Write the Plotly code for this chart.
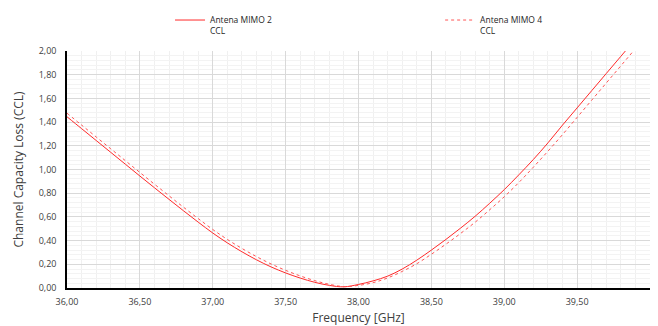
import plotly.graph_objects as go

freq = [36.0, 36.1, 36.2, 36.3, 36.4, 36.5, 36.6, 36.7, 36.8, 36.9,
        37.0, 37.1, 37.2, 37.3, 37.4, 37.5, 37.6, 37.7, 37.8, 37.9,
        38.0, 38.1, 38.2, 38.3, 38.4, 38.5, 38.6, 38.7, 38.8, 38.9,
        39.0, 39.1, 39.2, 39.3, 39.4, 39.5, 39.6, 39.7, 39.8, 39.9, 40.0]

ccl_mimo2 = [1.445, 1.345, 1.245, 1.145, 1.045, 0.945, 0.846, 0.748, 0.651, 0.556,
             0.464, 0.381, 0.306, 0.238, 0.178, 0.127, 0.084, 0.048, 0.022, 0.010,
             0.030, 0.060, 0.100, 0.160, 0.235, 0.320, 0.410, 0.505, 0.605, 0.715,
             0.830, 0.955, 1.085, 1.225, 1.375, 1.520, 1.665, 1.810, 1.955, 2.100, 2.245]

ccl_mimo4 = [1.475, 1.375, 1.275, 1.175, 1.075, 0.975, 0.876, 0.778, 0.681, 0.586,
             0.494, 0.410, 0.334, 0.265, 0.203, 0.149, 0.102, 0.062, 0.031, 0.012,
             0.022, 0.045, 0.085, 0.140, 0.205, 0.285, 0.370, 0.460, 0.555, 0.660,
             0.770, 0.890, 1.020, 1.155, 1.295, 1.440, 1.585, 1.730, 1.875, 2.020, 2.165]

series_names = ["Antena MIMO 2<br>CCL", "Antena MIMO 4<br>CCL"]

FONT = "Open Sans"

fig = go.Figure()
fig.add_trace(go.Scatter(x=freq, y=ccl_mimo2, mode="lines", name=series_names[0],
                         legend="legend",
                         line=dict(color="#ff2a2a", width=1, shape="spline")))
fig.add_trace(go.Scatter(x=freq, y=ccl_mimo4, mode="lines", name=series_names[1],
                         legend="legend2",
                         line=dict(color="#ff5555", width=1, dash="dot", shape="spline")))

leg_common = dict(orientation="h", xanchor="left", y=1.0, yanchor="top",
                  yref="container", itemwidth=30, valign="top",
                  font=dict(family=FONT, size=8.5, color="#262626"),
                  bgcolor="rgba(0,0,0,0)")

# page body has an 8px margin, so the figure is sized 650x318
fig.update_layout(
    width=650, height=318,
    margin=dict(l=59, r=8, t=43, b=38, autoexpand=False),
    paper_bgcolor="white", plot_bgcolor="white",
    separators=",.",
    font=dict(family=FONT, size=9, color="#404040"),
    showlegend=True,
    legend=dict(x=0.1767, **leg_common),
    legend2=dict(x=0.640, **leg_common),
    xaxis=dict(range=[36, 40], tick0=36, dtick=0.5, tickformat=".2f",
               showgrid=True, gridcolor="#d9d9d9", gridwidth=1,
               minor=dict(dtick=0.1, showgrid=True, gridcolor="#f0f0f0"),
               showline=True, linecolor="black", linewidth=1.5, ticks="",
               ticklabelstandoff=4, zeroline=False, automargin=False,
               title=dict(text="Frequency [GHz]", font=dict(family=FONT, size=12, color="#404040"),
                          standoff=8)),
    yaxis=dict(range=[0, 2], tick0=0, dtick=0.2, tickformat=".2f",
               showgrid=True, gridcolor="#d9d9d9", gridwidth=1,
               minor=dict(dtick=0.04, showgrid=True, gridcolor="#f3f3f3"),
               showline=True, linecolor="black", linewidth=1.5, ticks="",
               ticklabelstandoff=7, zeroline=False, automargin=False,
               title=dict(text="Channel Capacity Loss (CCL)",
                          font=dict(family=FONT, size=12, color="#404040"), standoff=12)),
)

fig.write_html("out.html")
